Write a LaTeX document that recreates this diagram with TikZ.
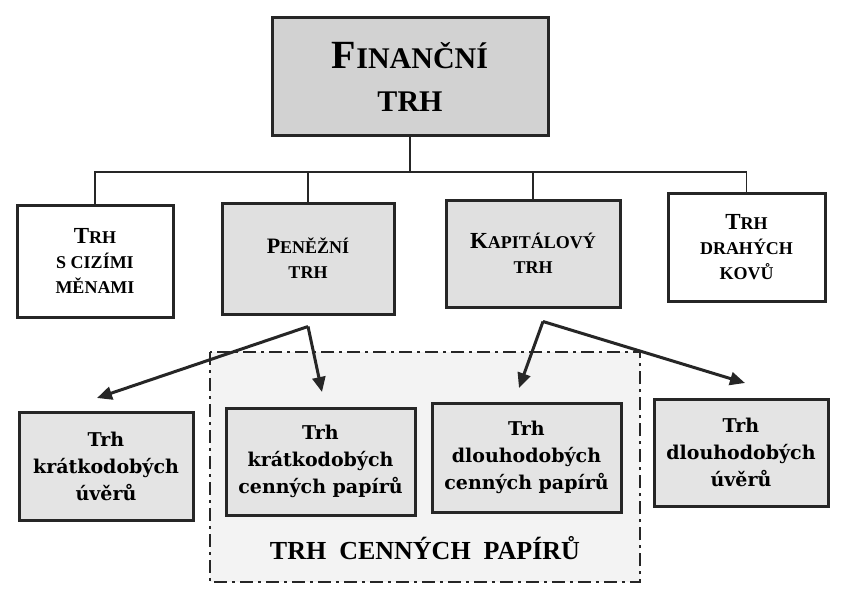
\documentclass[tikz,border=0pt]{standalone}
\usepackage{fontspec}
\setmainfont{Liberation Serif}
\newfontfamily\cfont{DejaVu Serif}
\usetikzlibrary{arrows.meta,calc}
\definecolor{gtop}{HTML}{D2D2D2}
\definecolor{gmid}{HTML}{E0E0E0}
\definecolor{glow}{HTML}{E4E4E4}
\definecolor{gzone}{HTML}{F3F3F3}
\newcommand{\bsc}[2]{{\fontsize{#1}{#1}\selectfont #2}}
\begin{document}
\begin{tikzpicture}[x=1pt,y=-1pt,
  box/.style={draw=black!85,line width=3pt,align=center,inner sep=0pt},
  lvtwo/.style={box,font=\bfseries\fontsize{18}{25}\selectfont},
  lvthree/.style={box,fill=glow,font=\cfont\bfseries\fontsize{19}{27}\selectfont},
  conn/.style={line width=1.4pt,draw=black!85},
  arr/.style={line width=3pt,draw=black!85,-{Triangle[length=15pt,width=13pt]}},
  zone/.style={draw=black!85,fill=gzone,line width=2.6pt,dash pattern=on 13pt off 5pt on 3pt off 5pt}
]
\useasboundingbox (0,0) rectangle (865,591);
\fill[white] (0,0) rectangle (865,591);

% zone
\draw[zone] (210,352) rectangle (640,582);
\node[font=\bfseries\fontsize{26}{28}\selectfont] (zl) at (425,548) {TRH\ \ CENNÝCH\ \ PAPÍRŮ};

% top
\node[box,fill=gtop,minimum width=276pt,minimum height=118pt,font=\bfseries\fontsize{30}{43}\selectfont] (top) at (410,77)
  {\bsc{40}{F}INANČNÍ\\TRH};

% level 2
\node[lvtwo,fill=white,minimum width=156pt,minimum height=112pt] (cm) at (95,261)
  {\bsc{23}{T}RH\\S CIZÍMI\\MĚNAMI};
\node[lvtwo,fill=gmid,minimum width=172pt,minimum height=111pt] (pen) at (308,258.5)
  {\bsc{22}{P}ENĚŽNÍ\\TRH};
\node[lvtwo,fill=gmid,minimum width=174pt,minimum height=107pt] (kap) at (533,253.5)
  {\bsc{23}{K}APITÁLOVÝ\\TRH};
\node[lvtwo,fill=white,minimum width=157pt,minimum height=108pt] (dk) at (746.5,247)
  {\bsc{23}{T}RH\\DRAHÝCH\\KOVŮ};

% bus
\coordinate (bus) at (410,172);
\draw[conn] (top.south) -- (bus);
\draw[conn] (cm.north) |- (bus) -| (dk.north);
\draw[conn] (pen.north) -- (pen.north |- bus);
\draw[conn] (kap.north) -- (kap.north |- bus);

% level 3
\node[lvthree,minimum width=174pt,minimum height=108pt] (ku) at (106,466)
  {Trh\\krátkodobých\\úvěrů};
\node[lvthree,minimum width=189pt,minimum height=107pt] (kcp) at (320.5,461.5)
  {Trh\\krátkodobých\\cenných papírů};
\node[lvthree,minimum width=189pt,minimum height=109pt] (dcp) at (526.5,457.5)
  {Trh\\dlouhodobých\\cenných papírů};
\node[lvthree,minimum width=174pt,minimum height=107pt] (du) at (741,452.5)
  {Trh\\dlouhodobých\\úvěrů};

% arrows
\coordinate (apA) at ($(pen.south)+(0,11)$);
\coordinate (apB) at ($(kap.south)+(10,13)$);
\coordinate (tA1) at (97,398);
\coordinate (tA2) at (322,392);
\coordinate (tB1) at (519,388);
\coordinate (tB2) at (745,383);
\draw[arr] (apA) -- (tA1);
\draw[arr] (apA) -- (tA2);
\draw[arr] (apB) -- (tB1);
\draw[arr] (apB) -- (tB2);
\end{tikzpicture}
\end{document}
